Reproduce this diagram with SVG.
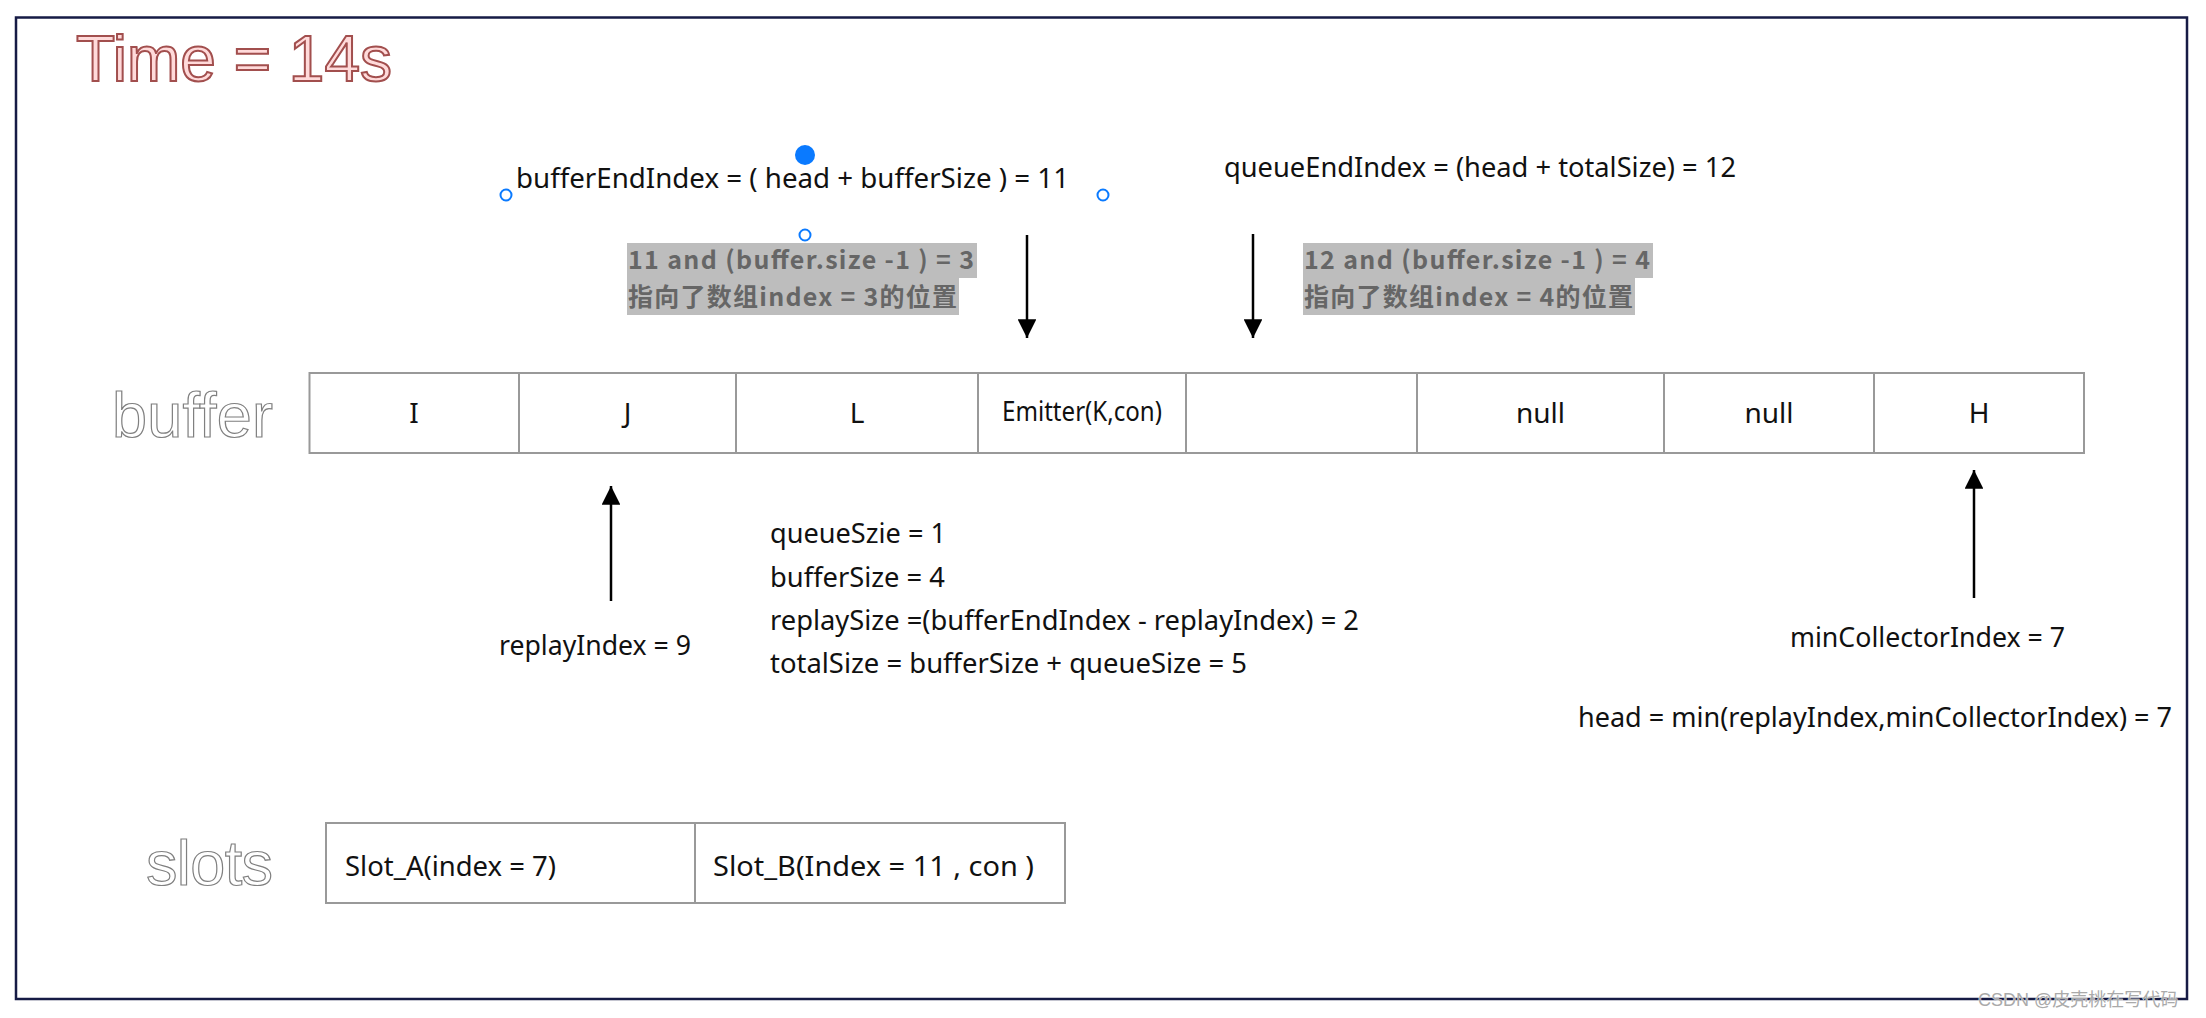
<svg xmlns="http://www.w3.org/2000/svg" width="2206" height="1018" viewBox="0 0 2206 1018">
<style>
.t{font-family:"Noto Sans","Noto Sans CJK SC",sans-serif;font-size:27px;fill:#111}
.c{font-family:"Noto Sans","Noto Sans CJK SC",sans-serif;font-size:28px;fill:#111;text-anchor:middle}
.g{font-family:"Noto Sans CJK SC","Noto Sans",sans-serif;font-size:25px;font-weight:bold;fill:#666}
.gb{fill:#bdbdbd}
.cell{fill:#fff;stroke:#999;stroke-width:2}
.ol{font-family:"Liberation Sans",Arial,sans-serif;font-size:63px;fill:#fff;stroke:#808080;stroke-width:1.2}
.ar{stroke:#000;stroke-width:2.5;fill:none}
.hd{fill:#0a7aff}
.ho{fill:#fff;stroke:#0a7aff;stroke-width:2}
</style>
<defs>
<marker id="ah" viewBox="0 0 10 10" refX="10" refY="5" markerWidth="7.5" markerHeight="7.5" markerUnits="strokeWidth" orient="auto">
<path d="M0,0 L10,5 L0,10 z" fill="#000"/>
</marker>
</defs>
<rect x="0" y="0" width="2206" height="1018" fill="#fff"/>
<rect x="16" y="17.5" width="2171" height="981.5" fill="none" stroke="#161b45" stroke-width="2.5"/>
<text x="76" y="81" font-family="Liberation Sans, Arial, sans-serif" font-size="64" fill="#ffdada" stroke="#a24f4e" stroke-width="2">Time = 14s</text>

<g id="label-buffer"><text class="ol" x="112" y="437" textLength="161">buffer</text></g>
<g id="label-slots"><text class="ol" x="146" y="885" textLength="127">slots</text></g>

<g id="bufferEndIndex">
<text class="t" x="516" y="188" textLength="553" lengthAdjust="spacingAndGlyphs">bufferEndIndex = ( head + bufferSize )  = 11</text>
<circle class="hd" cx="805" cy="155" r="10"/>
<circle class="ho" cx="506" cy="195" r="5.5"/>
<circle class="ho" cx="1103" cy="195" r="5.5"/>
<circle class="ho" cx="805" cy="235" r="5.5"/>
</g>
<g id="queueEndIndex"><text class="t" x="1224" y="177" textLength="512" lengthAdjust="spacingAndGlyphs">queueEndIndex = (head + totalSize) = 12</text></g>

<g id="note-3">
<rect class="gb" x="627" y="243" width="350" height="35"/>
<rect class="gb" x="627" y="278" width="332" height="37"/>
<text class="g" x="628" y="269" textLength="346">11 and (buffer.size -1 ) = 3</text>
<text class="g" x="628" y="306" textLength="329">指向了数组index = 3的位置</text>
</g>
<g id="note-4">
<rect class="gb" x="1303" y="243" width="350" height="35"/>
<rect class="gb" x="1303" y="278" width="332" height="37"/>
<text class="g" x="1304" y="269" textLength="346">12 and (buffer.size -1 ) = 4</text>
<text class="g" x="1304" y="306" textLength="329">指向了数组index = 4的位置</text>
</g>

<g id="buffer">
<rect class="cell" x="309.5" y="373" width="209.5" height="80"/>
<rect class="cell" x="519" y="373" width="217" height="80"/>
<rect class="cell" x="736" y="373" width="242" height="80"/>
<rect class="cell" x="978" y="373" width="208" height="80"/>
<rect class="cell" x="1186" y="373" width="231" height="80"/>
<rect class="cell" x="1417" y="373" width="247" height="80"/>
<rect class="cell" x="1664" y="373" width="210" height="80"/>
<rect class="cell" x="1874" y="373" width="210" height="80"/>
<text class="c" x="414" y="423">I</text>
<text class="c" x="627.5" y="423">J</text>
<text class="c" x="857" y="423">L</text>
<text class="c" x="1082" y="421" font-size="24" textLength="160" lengthAdjust="spacingAndGlyphs">Emitter(K,con)</text>
<text class="c" x="1540.5" y="423">null</text>
<text class="c" x="1769" y="423">null</text>
<text class="c" x="1979" y="423">H</text>
</g>

<g id="replayIndex"><text class="t" x="499" y="655" textLength="192" lengthAdjust="spacingAndGlyphs">replayIndex = 9</text></g>
<g id="sizes">
<text class="t" x="770" y="543" textLength="176" lengthAdjust="spacingAndGlyphs">queueSzie = 1</text>
<text class="t" x="770" y="587" textLength="175" lengthAdjust="spacingAndGlyphs">bufferSize = 4</text>
<text class="t" x="770" y="630" textLength="589" lengthAdjust="spacingAndGlyphs">replaySize =(bufferEndIndex  - replayIndex) = 2</text>
<text class="t" x="770" y="673" textLength="477" lengthAdjust="spacingAndGlyphs">totalSize = bufferSize + queueSize = 5</text>
</g>
<g id="minCollectorIndex"><text class="t" x="1790" y="647" textLength="275" lengthAdjust="spacingAndGlyphs">minCollectorIndex = 7</text></g>
<g id="head"><text class="t" x="1578" y="727" textLength="594" lengthAdjust="spacingAndGlyphs">head  = min(replayIndex,minCollectorIndex) = 7</text></g>

<g id="slots">
<rect class="cell" x="326" y="823" width="369" height="80"/>
<rect class="cell" x="695" y="823" width="370" height="80"/>
<text class="t" x="345" y="876" font-size="28" textLength="211" lengthAdjust="spacingAndGlyphs">Slot_A(index = 7)</text>
<text class="t" x="713" y="876" font-size="28" textLength="321" lengthAdjust="spacingAndGlyphs">Slot_B(Index = 11 , con )</text>
</g>

<g id="connectors">
<line class="ar" x1="1027" y1="235" x2="1027" y2="338" marker-end="url(#ah)"/>
<line class="ar" x1="1253" y1="234" x2="1253" y2="338" marker-end="url(#ah)"/>
<line class="ar" x1="611" y1="601" x2="611" y2="486" marker-end="url(#ah)"/>
<line class="ar" x1="1974" y1="598" x2="1974" y2="470" marker-end="url(#ah)"/>
</g>

<text x="1978" y="1006" font-family="Liberation Sans, 'Noto Sans CJK SC', sans-serif" font-size="18" fill="#aaa" stroke="#fff" stroke-width="0.6" paint-order="stroke">CSDN @皮壳桃在写代码</text>
</svg>
